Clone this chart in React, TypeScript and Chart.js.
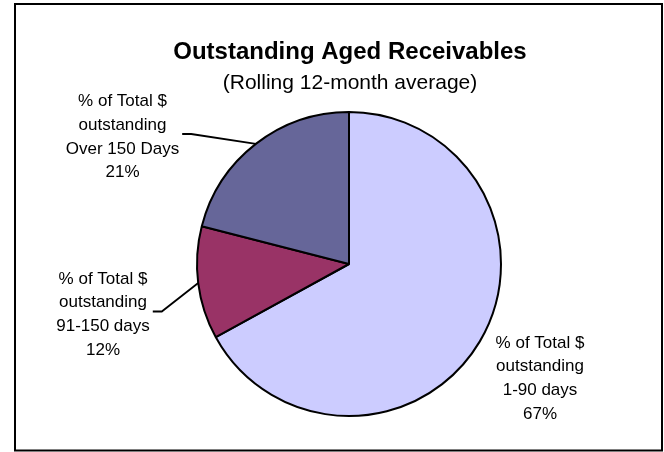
import React, { useEffect, useRef } from "react";
import { Chart, registerables } from "chart.js";

Chart.register(...registerables);

const categories = ["1-90 days", "91-150 days", "Over 150 Days"];
const percents = [67, 12, 21];
const sliceColors = ["#CCCCFF", "#993366", "#666699"];
const labelHeadLines = ["% of Total $", "outstanding"];
const titleText = "Outstanding Aged Receivables";
const subtitleText = "(Rolling 12-month average)";

const FONT = "'Liberation Sans', Arial, Helvetica, sans-serif";

// label block placement relative to the pie centre (layout, not data)
const labelLayout = [
  { dx: 191, dy: 112.5, leader: false },
  { dx: -246, dy: 48.5, leader: true },
  { dx: -226.5, dy: -129, leader: true },
];

const decorPlugin = {
  id: "decor",
  beforeDraw(chart: any) {
    const ctx = chart.ctx;
    ctx.save();
    ctx.fillStyle = "#ffffff";
    ctx.fillRect(0, 0, chart.width, chart.height);
    ctx.restore();
  },
  afterDraw(chart: any) {
    const ctx = chart.ctx;
    ctx.save();
    // frame
    ctx.strokeStyle = "#000";
    ctx.lineWidth = 2;
    ctx.strokeRect(15, 4, 647, 446.5);

    // title
    ctx.fillStyle = "#000";
    ctx.textAlign = "center";
    ctx.textBaseline = "alphabetic";
    ctx.font = `bold 24px ${FONT}`;
    ctx.fillText(titleText, 350, 59);
    ctx.font = `21px ${FONT}`;
    ctx.fillText(subtitleText, 350, 89);

    // labels
    const meta = chart.getDatasetMeta(0);
    ctx.font = `17px ${FONT}`;
    meta.data.forEach((arc: any, i: number) => {
      const p = arc.getProps(["x", "y", "startAngle", "endAngle", "outerRadius"], true);
      const lay = labelLayout[i];
      const cx = p.x + lay.dx;
      const cy = p.y + lay.dy;
      const lines = [...labelHeadLines, categories[i], `${percents[i]}%`];
      let maxW = 0;
      lines.forEach((ln, k) => {
        maxW = Math.max(maxW, ctx.measureText(ln).width);
        ctx.fillText(ln, cx, cy - 29 + k * 23.8);
      });
      if (lay.leader) {
        const mid = (p.startAngle + p.endAngle) / 2;
        const ex = p.x + Math.cos(mid) * p.outerRadius;
        const ey = p.y + Math.sin(mid) * p.outerRadius;
        const sx = cx + maxW / 2 + 3;
        const sy = cy - 1;
        ctx.beginPath();
        ctx.lineWidth = 1.8;
        ctx.moveTo(sx, sy);
        ctx.lineTo(sx + 9, sy);
        ctx.lineTo(ex, ey);
        ctx.stroke();
      }
    });
    ctx.restore();
  },
};

export default function App() {
  const ref = useRef<HTMLCanvasElement | null>(null);
  useEffect(() => {
    if (!ref.current) return;
    const chart = new Chart(ref.current, {
      type: "pie",
      data: {
        labels: categories,
        datasets: [
          {
            data: percents,
            backgroundColor: sliceColors,
            borderColor: "#000000",
            borderWidth: 2,
          },
        ],
      },
      options: {
        responsive: false,
        animation: false,
        devicePixelRatio: 1,
        layout: { padding: { left: 196, right: 162, top: 111, bottom: 35 } },
        plugins: {
          legend: { display: false },
          tooltip: { enabled: false },
          title: { display: false },
        },
      },
      plugins: [decorPlugin],
    });
    return () => chart.destroy();
  }, []);
  return (
    <div style={{ position: "fixed", left: 0, top: 0, width: 664, height: 452, background: "#fff" }}>
      <canvas ref={ref} width={664} height={452} style={{ display: "block", width: 664, height: 452 }} />
    </div>
  );
}
